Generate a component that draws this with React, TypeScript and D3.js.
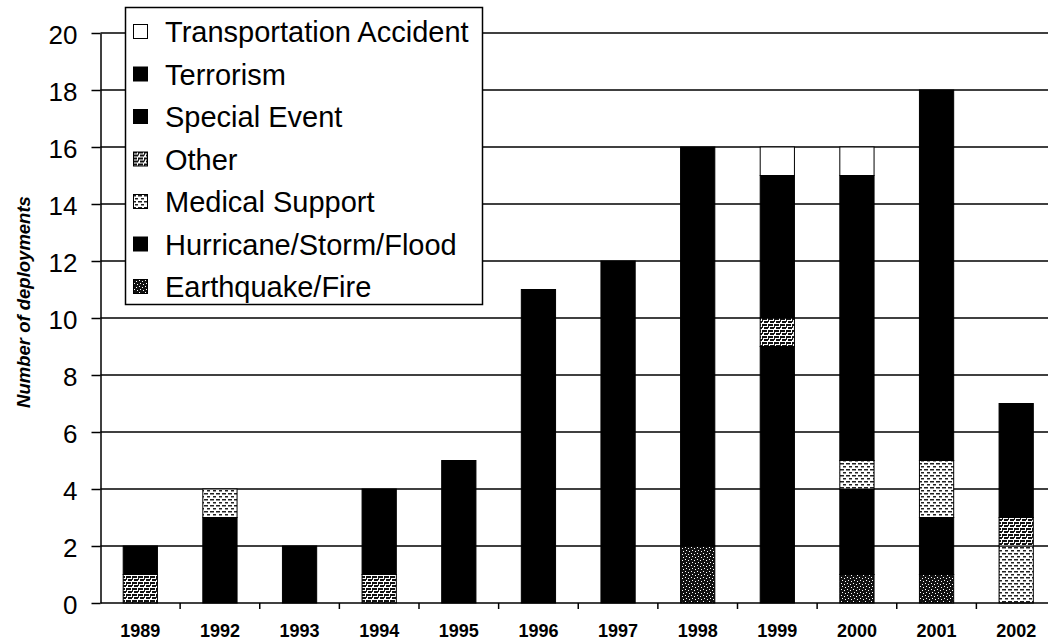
import { useEffect, useRef } from 'react';
import * as d3 from 'd3';

const years = ['1989', '1992', '1993', '1994', '1995', '1996', '1997', '1998', '1999', '2000', '2001', '2002'];

// stacked bottom -> top
const earthquakeFire = [0, 0, 0, 0, 0, 0, 0, 2, 0, 1, 1, 0];
const hurricaneStormFlood = [0, 3, 2, 0, 5, 11, 12, 14, 9, 3, 2, 0];
const medicalSupport = [0, 1, 0, 0, 0, 0, 0, 0, 0, 1, 2, 2];
const other = [1, 0, 0, 1, 0, 0, 0, 0, 1, 0, 0, 1];
const specialEvent = [1, 0, 0, 3, 0, 0, 0, 0, 5, 10, 9, 4];
const terrorism = [0, 0, 0, 0, 0, 0, 0, 0, 0, 0, 4, 0];
const transportationAccident = [0, 0, 0, 0, 0, 0, 0, 0, 1, 1, 0, 0];

const seriesNames = [
  'Earthquake/Fire',
  'Hurricane/Storm/Flood',
  'Medical Support',
  'Other',
  'Special Event',
  'Terrorism',
  'Transportation Accident',
];
const seriesValues = [earthquakeFire, hurricaneStormFlood, medicalSupport, other, specialEvent, terrorism, transportationAccident];
const seriesFills = ['url(#pQuake)', '#000', 'url(#pMed)', 'url(#pOther)', '#000', '#000', '#fff'];

const yTicks = [0, 2, 4, 6, 8, 10, 12, 14, 16, 18, 20];

export default function App() {
  const svgRef = useRef<SVGSVGElement>(null);

  useEffect(() => {
    if (!svgRef.current) return;
    const root = d3.select(svgRef.current);
    root.selectAll('*').remove();

    const font = '"Liberation Sans", Arial, sans-serif';

    // fill patterns (scanned Excel hatches)
    const defs = root.append('defs');
    const quake = defs.append('pattern').attr('id', 'pQuake').attr('patternUnits', 'userSpaceOnUse').attr('width', 6).attr('height', 6);
    quake.append('rect').attr('width', 6).attr('height', 6).attr('fill', '#111');
    [[1, 1], [4, 2], [2, 4], [5, 5]].forEach(([px, py]) =>
      quake.append('rect').attr('x', px).attr('y', py).attr('width', 1).attr('height', 1).attr('fill', '#fff'));

    const oth = defs.append('pattern').attr('id', 'pOther').attr('patternUnits', 'userSpaceOnUse').attr('width', 6).attr('height', 6);
    oth.append('rect').attr('width', 6).attr('height', 6).attr('fill', '#fff');
    oth.append('rect').attr('x', 0).attr('y', 0).attr('width', 5).attr('height', 2).attr('fill', '#111');
    oth.append('rect').attr('x', 2).attr('y', 3).attr('width', 4).attr('height', 2).attr('fill', '#111');
    oth.append('rect').attr('x', 0).attr('y', 2).attr('width', 1).attr('height', 2).attr('fill', '#222');

    const med = defs.append('pattern').attr('id', 'pMed').attr('patternUnits', 'userSpaceOnUse').attr('width', 6).attr('height', 6);
    med.append('rect').attr('width', 6).attr('height', 6).attr('fill', '#fff');
    med.append('rect').attr('x', 0).attr('y', 1).attr('width', 4).attr('height', 1.5).attr('fill', '#222');
    med.append('rect').attr('x', 3).attr('y', 4).attr('width', 3).attr('height', 1.5).attr('fill', '#222');

    const x = d3.scaleBand<string>()
      .domain(years)
      .range([100.5, 1056])
      .paddingInner(0.57)
      .paddingOuter(0.285);

    const y = d3.scaleLinear().domain([0, 20]).range([603, 33]);

    const table = years.map((yr, i) => {
      const row: Record<string, number | string> = { year: yr };
      seriesNames.forEach((s, k) => { row[s] = seriesValues[k][i]; });
      return row;
    });
    const stacked = d3.stack<Record<string, number | string>>().keys(seriesNames)(table);

    // gridlines
    root.append('g')
      .selectAll('line')
      .data(yTicks.filter(t => t > 0))
      .join('line')
      .attr('x1', 100.5)
      .attr('x2', 1048)
      .attr('y1', d => y(d))
      .attr('y2', d => y(d))
      .attr('stroke', '#000')
      .attr('stroke-width', 1.5);

    // bars
    const layers = root.append('g')
      .selectAll('g')
      .data(stacked)
      .join('g')
      .attr('fill', (_, i) => seriesFills[i]);

    layers.selectAll('rect')
      .data(d => d.filter(p => p[1] - p[0] > 0))
      .join('rect')
      .attr('x', d => x(String(d.data.year)) || 0)
      .attr('width', x.bandwidth())
      .attr('y', d => y(d[1]))
      .attr('height', d => y(d[0]) - y(d[1]))
      .attr('stroke', '#000')
      .attr('stroke-width', 1);

    // y axis
    const yAxis = root.append('g')
      .attr('transform', 'translate(100.5,0)')
      .call(d3.axisLeft(y).tickValues(yTicks).tickSize(9).tickSizeOuter(0).tickPadding(14));
    yAxis.select('.domain').attr('stroke', '#000').attr('stroke-width', 1.5);
    yAxis.selectAll('.tick line').attr('stroke-width', 1.5);
    yAxis.selectAll('text')
      .attr('font-family', font)
      .attr('font-size', 26)
      .attr('fill', '#000')
      .attr('dy', '0.4em');

    // x axis
    const xAxis = root.append('g').attr('transform', 'translate(0,603)');
    xAxis.append('line')
      .attr('x1', 100.5).attr('x2', 1048)
      .attr('stroke', '#000').attr('stroke-width', 1.5);
    xAxis.selectAll('.xtick')
      .data(years.slice(1))
      .join('line')
      .attr('class', 'xtick')
      .attr('x1', d => (x(d) || 0) - x.step() * x.paddingInner() / 2)
      .attr('x2', d => (x(d) || 0) - x.step() * x.paddingInner() / 2)
      .attr('y1', 0)
      .attr('y2', 6)
      .attr('stroke', '#000')
      .attr('stroke-width', 1.5);
    xAxis.selectAll('text')
      .data(years)
      .join('text')
      .attr('x', d => (x(d) || 0) + x.bandwidth() / 2)
      .attr('y', 34)
      .attr('text-anchor', 'middle')
      .attr('font-family', font)
      .attr('font-size', 18)
      .attr('font-weight', 'bold')
      .text(d => d);

    // y title
    root.append('text')
      .attr('transform', 'translate(30,302) rotate(-90)')
      .attr('text-anchor', 'middle')
      .attr('font-family', font)
      .attr('font-size', 18.5)
      .attr('font-weight', 'bold')
      .attr('font-style', 'italic')
      .text('Number of deployments');

    // legend
    const legend = root.append('g');
    legend.append('rect')
      .attr('x', 125.5).attr('y', 7.5)
      .attr('width', 357).attr('height', 297)
      .attr('fill', '#fff')
      .attr('stroke', '#000')
      .attr('stroke-width', 1.5);

    const legendOrder = seriesNames.map((_, i) => i).reverse();
    const items = legend.selectAll('g.item')
      .data(legendOrder)
      .join('g')
      .attr('class', 'item')
      .attr('transform', (_, i) => `translate(0,${42 + i * 42.5})`);

    items.append('rect')
      .attr('x', 133.5).attr('y', -17.5)
      .attr('width', 14).attr('height', 14)
      .attr('fill', i => seriesFills[i])
      .attr('stroke', '#000')
      .attr('stroke-width', 1);

    items.append('text')
      .attr('x', 165)
      .attr('y', 0)
      .attr('font-family', font)
      .attr('font-size', 29)
      .text(i => seriesNames[i]);
  }, []);

  return (
    <svg
      ref={svgRef}
      width={1048}
      height={641}
      style={{ position: 'absolute', left: 0, top: 0, background: '#fff' }}
    />
  );
}
